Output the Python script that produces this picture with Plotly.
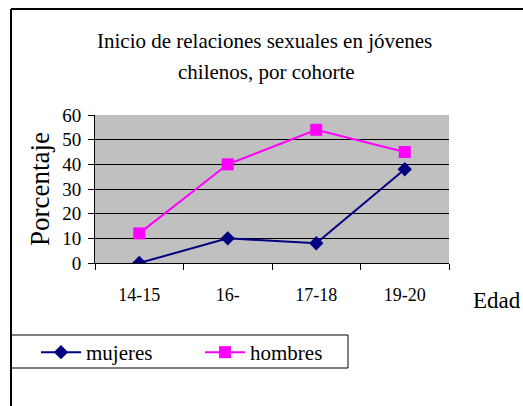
import plotly.graph_objects as go

categorias = ["14-15", "16-", "17-18", "19-20"]
mujeres = [0, 10, 8, 38]
hombres = [12, 40, 54, 45]
y_ticks = [0, 10, 20, 30, 40, 50, 60]
y_grid = [10, 20, 30, 40, 50]

W, H = 523, 406
L, R, T, B = 95, 449, 115, 263  # plot area in pixels
pw, ph = R - L, B - T

def px(x):
    return (x - L) / pw

def py(y):
    return (B - y) / ph

FONT = "Liberation Serif, Times New Roman, serif"

fig = go.Figure()
fig.add_trace(go.Scatter(
    x=categorias, y=mujeres, name="mujeres", mode="lines+markers",
    line=dict(color="#000080", width=2),
    marker=dict(symbol="diamond", size=11, color="#000080"),
    xaxis="x", yaxis="y",
))
fig.add_trace(go.Scatter(
    x=categorias, y=hombres, name="hombres", mode="lines+markers",
    line=dict(color="#FF00FF", width=2),
    marker=dict(symbol="square", size=12, color="#FF00FF"),
    xaxis="x", yaxis="y2",
))

fig.update_layout(
    width=W, height=H,
    margin=dict(l=L, r=W - R, t=T, b=H - B, pad=0),
    paper_bgcolor="white",
    plot_bgcolor="#C0C0C0",
    font=dict(family=FONT, color="black", size=18),
    showlegend=True,
    legend=dict(
        orientation="h", x=px(36), y=py(332), xanchor="left", yanchor="top",
        font=dict(size=21, family=FONT), bgcolor="rgba(0,0,0,0)",
        borderwidth=0, entrywidth=109, entrywidthmode="pixels",
        itemwidth=40, tracegroupgap=0,
    ),
    xaxis=dict(
        type="category", range=[-0.5, 3.5], showgrid=False,
        showline=True, linecolor="black", linewidth=1,
        ticks="outside", tickson="boundaries", ticklen=6, tickcolor="black",
        ticklabelstandoff=15,
        tickfont=dict(size=18, family=FONT), fixedrange=True,
    ),
    yaxis=dict(
        range=[0, 60], tickvals=y_grid, showgrid=True, gridcolor="black",
        gridwidth=1, zeroline=False, showticklabels=False, ticks="",
        showline=False, fixedrange=True,
    ),
    yaxis2=dict(
        range=[0, 60], tickvals=y_ticks, overlaying="y", side="left", anchor="x",
        showgrid=False, zeroline=False,
        showline=True, linecolor="black", linewidth=1,
        ticks="outside", ticklen=6, tickcolor="black", ticklabelstandoff=3,
        tickfont=dict(size=19, family=FONT),
        title=dict(text="Porcentaje", font=dict(size=27, family=FONT), standoff=4),
        fixedrange=True,
    ),
    shapes=[
        # outer chart border (top and left)
        dict(type="line", xref="paper", yref="paper", x0=px(11), x1=px(W + 5),
             y0=py(9), y1=py(9), line=dict(color="black", width=2)),
        dict(type="line", xref="paper", yref="paper", x0=px(11), x1=px(11),
             y0=py(9), y1=py(H + 5), line=dict(color="black", width=2)),
        # legend box
        dict(type="rect", xref="paper", yref="paper", x0=px(11), x1=px(348),
             y0=py(335), y1=py(368), line=dict(color="black", width=1),
             fillcolor="rgba(0,0,0,0)"),
    ],
    annotations=[
        dict(text="Inicio de relaciones sexuales en jóvenes", xref="paper", yref="paper",
             x=px(264), y=py(41), xanchor="center", yanchor="middle", showarrow=False,
             font=dict(size=21, family=FONT)),
        dict(text="chilenos, por cohorte", xref="paper", yref="paper",
             x=px(266), y=py(72), xanchor="center", yanchor="middle", showarrow=False,
             font=dict(size=21, family=FONT)),
        dict(text="Edad", xref="paper", yref="paper",
             x=px(471), y=py(300), xanchor="left", yanchor="middle", showarrow=False,
             font=dict(size=23, family=FONT)),
    ],
)

fig.write_html(
    "out.html",
    config={"displayModeBar": False},
    post_script="document.body.style.margin='0';document.body.style.overflow='hidden';",
)
